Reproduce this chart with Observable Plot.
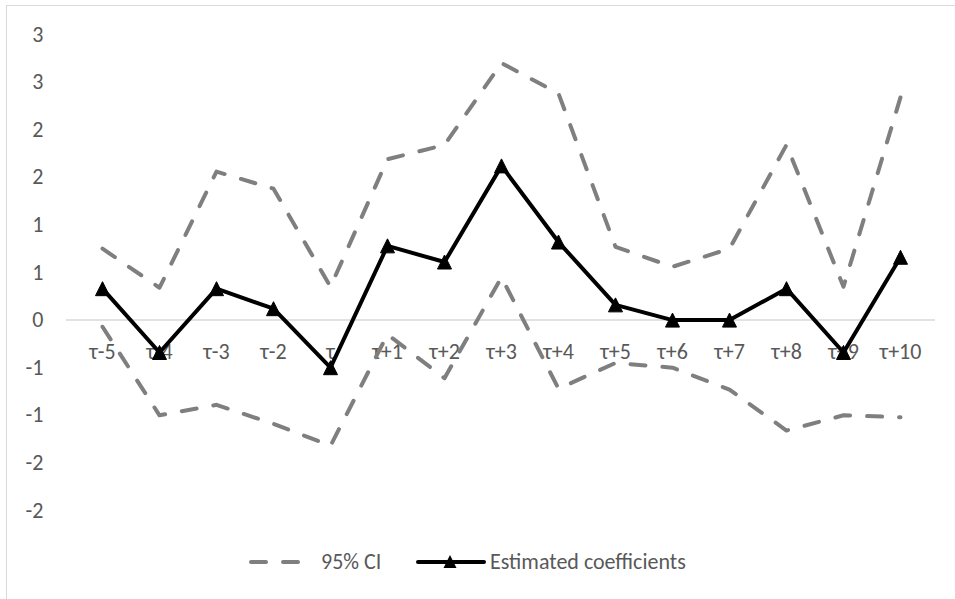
<!DOCTYPE html>
<html>
<head>
<meta charset="utf-8">
<script src="https://cdn.jsdelivr.net/npm/d3@7"></script>
<script src="https://cdn.jsdelivr.net/npm/@observablehq/plot@0.6"></script>
<style>
  body { margin: 0; background: white; }
  #wrap { position: relative; width: 955px; height: 599px; overflow: hidden; font-family: Carlito, Calibri, Lato, sans-serif; color: #595959; }
  #frame { position: absolute; left: 6px; top: 5px; width: 1000px; height: 1000px; border-left: 1px solid #d9d9d9; border-top: 1px solid #d9d9d9; }
  #chart { position: absolute; left: 0; top: 0; }
  .leg { position: absolute; top: 548px; font-size: 22px; line-height: 28px; white-space: nowrap; }
  .leg svg { position: absolute; top: 1px; }
</style>
</head>
<body>
<div id="wrap">
  <div id="frame"></div>
  <div id="chart"></div>
  <div class="leg" style="left:248px;"><svg width="70" height="26"><line x1="3" y1="13" x2="67" y2="13" stroke="#7f7f7f" stroke-width="4" stroke-dasharray="15,17" stroke-linecap="round"/></svg><span style="position:absolute;left:73px;">95% CI</span></div>
  <div class="leg" style="left:415px;"><svg width="72" height="26"><line x1="3" y1="13" x2="69" y2="13" stroke="#000" stroke-width="4" stroke-linecap="round"/><path d="M35,6 L41.5,19 L28.5,19 Z" fill="#000"/></svg><span style="position:absolute;left:75px;">Estimated coefficients</span></div>
</div>
<script>
const categories = ["τ-5","τ-4","τ-3","τ-2","τ","τ+1","τ+2","τ+3","τ+4","τ+5","τ+6","τ+7","τ+8","τ+9","τ+10"];
const estimated = [0.33, -0.34, 0.33, 0.12, -0.5, 0.78, 0.61, 1.62, 0.82, 0.16, 0.0, 0.0, 0.33, -0.34, 0.66];
const ciUpper = [0.75, 0.34, 1.56, 1.38, 0.35, 1.69, 1.84, 2.7, 2.38, 0.77, 0.56, 0.75, 1.84, 0.35, 2.34];
const ciLower = [-0.07, -1.0, -0.89, -1.09, -1.32, -0.15, -0.61, 0.45, -0.72, -0.45, -0.5, -0.73, -1.16, -1.0, -1.02];
const yTicks = [-2, -1.5, -1, -0.5, 0, 0.5, 1, 1.5, 2, 2.5, 3];
const yTickLabels = ["-2", "-2", "-1", "-1", "0", "1", "1", "2", "2", "3", "3"];

const rows = categories.map((c, i) => ({cat: c, est: estimated[i], up: ciUpper[i], lo: ciLower[i]}));

const excelTriangle = {
  draw(ctx, size) {
    const s = Math.sqrt(size);
    ctx.moveTo(0, -s / 2);
    ctx.lineTo(s / 2, s / 2);
    ctx.lineTo(-s / 2, s / 2);
    ctx.closePath();
  }
};

const chart = Plot.plot({
  width: 955,
  height: 535,
  marginLeft: 66,
  marginRight: 20,
  marginTop: 34,
  marginBottom: 25,
  style: {fontFamily: "Carlito, Calibri, Lato, sans-serif", fontSize: "22px", color: "#595959", background: "transparent", overflow: "visible"},
  x: {type: "point", domain: categories, padding: 0.5, axis: null},
  y: {domain: [-2, 3], axis: null},
  marks: [
    Plot.axisY({ticks: yTicks, tickFormat: d => yTickLabels[yTicks.indexOf(d)], tickSize: 0, tickPadding: 23, label: null, fill: "#595959", fontSize: 22}),
    Plot.ruleY([0], {stroke: "#d9d9d9", strokeWidth: 1.5}),
    Plot.text(rows, {x: "cat", y: () => 0, text: "cat", dy: 32, fill: "#595959", fontSize: 22}),
    Plot.line(rows, {x: "cat", y: "up", stroke: "#7f7f7f", strokeWidth: 4, strokeDasharray: "15,17", strokeLinecap: "round", strokeLinejoin: "round"}),
    Plot.line(rows, {x: "cat", y: "lo", stroke: "#7f7f7f", strokeWidth: 4, strokeDasharray: "15,17", strokeLinecap: "round", strokeLinejoin: "round"}),
    Plot.line(rows, {x: "cat", y: "est", stroke: "#000", strokeWidth: 4, strokeLinejoin: "round"}),
    Plot.dot(rows, {x: "cat", y: "est", symbol: excelTriangle, r: 7.9, fill: "#000", stroke: "#000", strokeWidth: 1})
  ]
});
document.getElementById("chart").appendChild(chart);
</script>
</body>
</html>
